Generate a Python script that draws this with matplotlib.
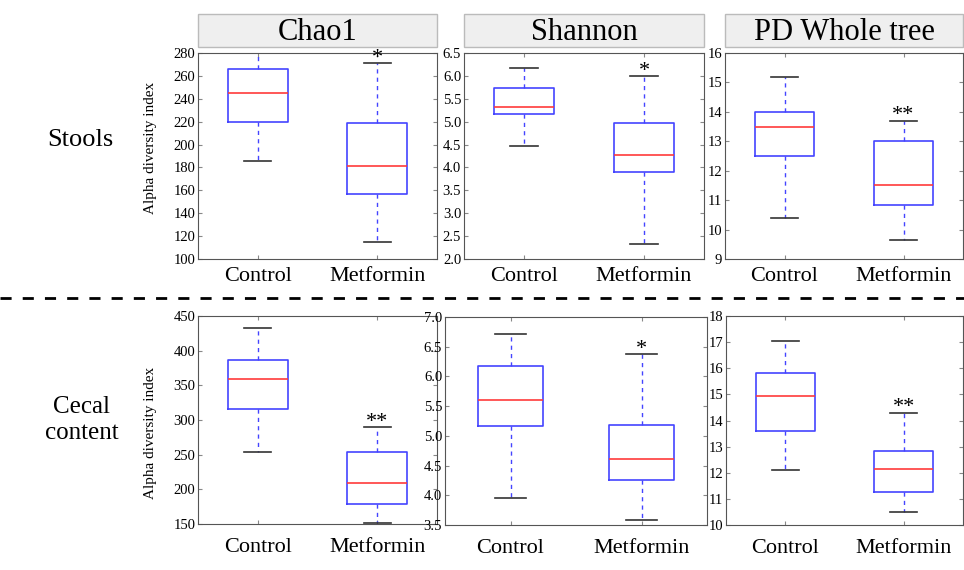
import matplotlib
matplotlib.use("Agg")
import matplotlib.pyplot as plt
from matplotlib.patches import Rectangle
from matplotlib.lines import Line2D

plt.rcParams["font.family"] = ["Liberation Serif", "DejaVu Serif"]

groups = ["Control", "Metformin"]
metrics = ["Chao1", "Shannon", "PD Whole tree"]
rows = ["Stools", "Cecal\ncontent"]

# each box: (whisker low, Q1, median, Q3, whisker high)
stools_chao1 = [(186, 220, 245, 266, 280), (115, 157, 181, 219, 271)]
stools_shannon = [(4.47, 5.16, 5.31, 5.74, 6.18), (2.32, 3.91, 4.27, 4.98, 5.99)]
stools_pd = [(10.4, 12.5, 13.5, 14.0, 15.2), (9.65, 10.85, 11.5, 13.0, 13.7)]
cecal_chao1 = [(254, 316, 359, 387, 432), (151, 179, 209, 254, 290)]
cecal_shannon = [(3.96, 5.16, 5.60, 6.17, 6.71), (3.59, 4.25, 4.61, 5.19, 6.37)]
cecal_pd = [(12.1, 13.6, 14.95, 15.8, 17.05), (10.5, 11.25, 12.15, 12.85, 14.3)]

stars = [["*", "*", "**"], ["**", "*", "**"]]

yticks = [
    [list(range(100, 281, 20)), [2.0 + 0.5 * i for i in range(10)], list(range(9, 17))],
    [list(range(150, 451, 50)), [3.5 + 0.5 * i for i in range(8)], list(range(10, 19))],
]
data = [[stools_chao1, stools_shannon, stools_pd], [cecal_chao1, cecal_shannon, cecal_pd]]

W, H = 964, 570
fig = plt.figure(figsize=(W / 100, H / 100), dpi=100)

# axes boxes in pixels: left, top, right, bottom
boxes = [
    [(198, 53, 437, 259), (464, 53, 704, 259), (725, 53, 963, 259)],
    [(198, 316, 437, 524), (445, 317, 707, 525), (726, 316, 963, 525)],
]
label_y = [0.54, 0.44]
xpad = [6, 10]


def px(l, t, r, b):
    return [l / W, 1 - b / H, (r - l) / W, (b - t) / H]


for i in range(2):
    for j in range(3):
        ax = fig.add_axes(px(*boxes[i][j]))
        stats = []
        for g, (lo, q1, med, q3, hi) in zip(groups, data[i][j]):
            stats.append(dict(label=g, whislo=lo, q1=q1, med=med, q3=q3, whishi=hi, fliers=[]))
        ax.bxp(stats, positions=[1, 2], widths=0.5, capwidths=0.23, showfliers=False,
               boxprops=dict(color="#4444ff", lw=1.2),
               medianprops=dict(color="#ff3b3b", lw=1.2),
               whiskerprops=dict(color="#4444ff", lw=1.0, ls=(0, (3, 3))),
               capprops=dict(color="#333333", lw=1.2))
        ticks = yticks[i][j]
        ax.set_ylim(ticks[0], ticks[-1])
        ax.set_xlim(0.5, 2.5)
        ax.set_yticks(ticks)
        if isinstance(ticks[0], float):
            ax.set_yticklabels([f"{t:.1f}" for t in ticks])
        ax.set_xticks([1, 2])
        ax.set_xticklabels(groups, fontsize=16)
        ax.tick_params(axis="y", labelsize=10.5, direction="in", right=True, length=3, pad=2, color="#888888")
        ax.tick_params(axis="x", direction="in", top=True, length=3, pad=xpad[i], color="#888888")
        for s in ax.spines.values():
            s.set_color("#555555")
        hi = data[i][j][1][4]
        ax.annotate(stars[i][j], (2, hi), xytext=(0, 3.5), textcoords="offset points",
                    ha="center", va="center", fontsize=16, annotation_clip=False)
        if j == 0:
            ax.set_ylabel("Alpha diversity index", fontsize=11)
            ax.yaxis.set_label_coords(-0.17, label_y[i])

# title boxes
for (l, t, r, b), name in zip(boxes[0], metrics):
    rect = Rectangle((l / W, 1 - 47 / H), (r - l) / W, 33 / H, transform=fig.transFigure,
                     facecolor="#efefef", edgecolor="#bbbbbb", lw=1)
    fig.add_artist(rect)
    fig.text((l + r) / 2 / W, 1 - 32 / H, name, ha="center", va="center", fontsize=22)

# row labels
fig.text(80 / W, 1 - 140 / H, rows[0], ha="center", va="center", fontsize=19)
fig.text(82 / W, 1 - 420 / H, rows[1], ha="center", va="center", fontsize=18, linespacing=1.25)

# dashed separator
fig.add_artist(Line2D([0, 1], [1 - 298 / H, 1 - 298 / H], transform=fig.transFigure,
                      color="black", lw=2, ls=(0, (4, 4))))

fig.savefig("out.png", dpi=100)
